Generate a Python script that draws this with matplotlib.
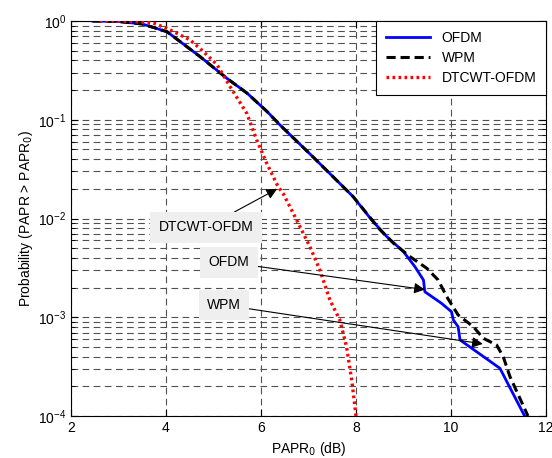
import matplotlib
matplotlib.use('Agg')
import matplotlib.pyplot as plt
import numpy as np

plt.rcParams['font.family'] = ['Liberation Sans', 'DejaVu Sans']
plt.rcParams['font.size'] = 10

# CCDF curves (x in dB, y as log10 probability)
ofdm_x = [2.45, 3.0, 3.5, 4.02, 4.72, 5.28, 5.71, 6.13, 6.40, 7.09, 7.94, 8.33, 8.65, 9.0,
          9.24, 9.42, 9.45, 9.80, 10.01, 10.05, 10.15, 10.19, 11.03, 11.55]
ofdm_logy = [0.0, -0.005, -0.03, -0.108, -0.362, -0.58, -0.732, -0.918, -1.053, -1.374,
             -1.779, -2.015, -2.184, -2.336, -2.488, -2.623, -2.742, -2.859, -2.944, -3.028,
             -3.096, -3.23, -3.517, -4.0]

wpm_x = [2.45, 3.0, 3.5, 4.02, 4.72, 5.28, 5.71, 6.13, 6.40, 7.09, 7.94, 8.51, 8.79, 9.14,
         9.49, 9.73, 9.91, 10.15, 10.47, 10.68, 10.96, 11.1, 11.24, 11.62]
wpm_logy = [0.0, -0.005, -0.03, -0.108, -0.362, -0.58, -0.732, -0.918, -1.053, -1.374,
            -1.779, -2.116, -2.251, -2.387, -2.504, -2.623, -2.792, -2.977, -3.096, -3.213,
            -3.281, -3.4, -3.6, -4.0]

dtcwt_x = [2.6, 3.2, 3.73, 4.02, 4.5, 4.72, 5.07, 5.35, 5.70, 5.91, 6.12, 6.36, 6.47, 6.75,
           7.03, 7.24, 7.45, 7.66, 7.80, 7.91, 8.0]
dtcwt_logy = [0.0, -0.003, -0.02, -0.075, -0.19, -0.28, -0.44, -0.665, -0.935, -1.205, -1.441,
              -1.678, -1.75, -2.015, -2.286, -2.522, -2.825, -3.028, -3.298, -3.635, -4.0]

fig = plt.figure(figsize=(5.52, 4.58), dpi=100)
ax = fig.add_axes([71/552, 1-416/458, (546-71)/552, (416-21)/458])

ax.semilogy(ofdm_x, 10**np.array(ofdm_logy), color='#0000ff', lw=2, label='OFDM', zorder=3)
ax.semilogy(wpm_x, 10**np.array(wpm_logy), color='black', lw=2.2, ls=(0, (3, 1.6)),
            label='WPM', zorder=3)
ax.semilogy(dtcwt_x, 10**np.array(dtcwt_logy), color='#ff0000', lw=2.4, ls=(0, (0.8, 1.0)),
            label='DTCWT-OFDM', zorder=3)

ax.set_xlim(2, 12)
ax.set_ylim(1e-4, 1)
ax.set_xticks([2, 4, 6, 8, 10, 12])
ax.grid(True, which='major', axis='x', color='#505050', ls=(0, (6, 4)), lw=0.8)
ax.grid(True, which='both', axis='y', color='#505050', ls=(0, (6, 4)), lw=0.8)
ax.tick_params(which='both', direction='in', top=True, right=True)
ax.tick_params(which='major', length=5)
ax.tick_params(which='minor', length=3)

ax.set_xlabel('PAPR$_0$ (dB)', labelpad=4)
ax.set_ylabel('Probability (PAPR > PAPR$_0$)', labelpad=2)

box = dict(boxstyle='square,pad=0.6', fc='#efefef', ec='none')
arrow = dict(arrowstyle='-|>', color='black', lw=0.8, mutation_scale=16, shrinkA=0, shrinkB=0)
ax.annotate('DTCWT-OFDM', xy=(6.34, 10**-1.70), xytext=(4.84, 10**-2.09),
            ha='center', va='center', bbox=box, arrowprops=arrow)
ax.annotate('OFDM', xy=(9.45, 10**-2.72), xytext=(5.33, 10**-2.445),
            ha='center', va='center', bbox=box, arrowprops=arrow)
ax.annotate('WPM', xy=(10.67, 10**-3.27), xytext=(5.22, 10**-2.876),
            ha='center', va='center', bbox=box, arrowprops=arrow)

leg = ax.legend(loc='upper right', fancybox=False, framealpha=1, edgecolor='black',
                borderaxespad=0, handlelength=3.2, labelspacing=0.45, borderpad=0.7,
                fontsize=10)
leg.get_frame().set_linewidth(0.8)

fig.savefig('out.png', dpi=100)
